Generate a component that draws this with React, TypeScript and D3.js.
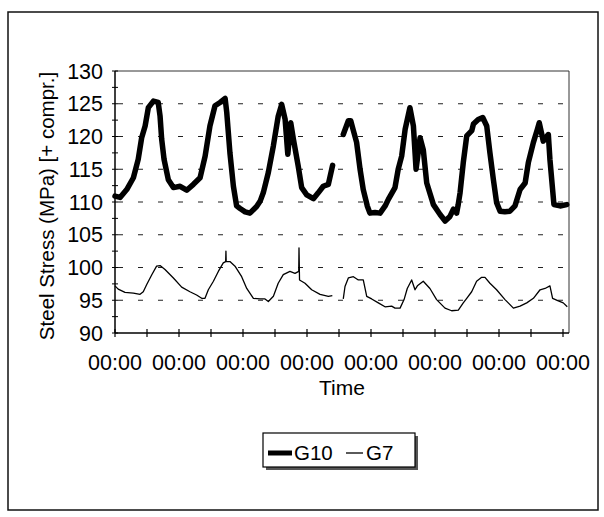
import React from "react";
import * as d3 from "d3";

// hours from start; null marks the gap in the record
const g10Hours: (number | null)[] = [0, 1.9, 4.4, 6.9, 8.7, 10.0, 11.3, 12.5, 14.4, 16.2, 16.9, 17.5, 18.4, 20.0, 21.9, 24.4, 26.9, 29.4, 31.9, 33.8, 35.6, 37.5, 39.4, 41.3, 41.9, 43.1, 44.4, 45.6, 46.9, 48.8, 50.6, 53.1, 54.4, 55.6, 57.5, 59.4, 61.2, 62.5, 63.8, 64.8, 65.9, 66.9, 68.7, 70.0, 71.9, 74.4, 76.2, 78.1, 80.0, 81.6,
  null,
  85.6, 87.5, 88.4, 89.4, 90.6, 91.9, 93.1, 94.6, 95.6, 97.5, 99.4, 101.3, 102.5, 105.0, 106.2, 107.5, 108.8, 110.6, 111.9, 112.9, 114.4, 115.6, 116.9, 118.8, 119.4, 121.9, 123.8, 125.6, 126.9, 128.1, 128.7, 129.4, 130.6, 131.9, 133.8, 134.4, 136.2, 137.9, 139.4, 140.6, 141.9, 143.1, 144.4, 146.2, 148.1, 150.0, 151.9, 153.8, 155.0, 156.9, 158.4, 159.1, 160.6, 162.5, 163.1, 164.1, 164.6, 166.9, 169.4];
const g10Values: (number | null)[] = [110.9, 110.7, 111.9, 113.7, 116.5, 119.8, 121.6, 124.4, 125.4, 125.2, 123.1, 119.6, 116.5, 113.4, 112.2, 112.4, 111.8, 112.7, 113.7, 117.0, 121.6, 124.7, 125.2, 125.8, 123.7, 117.5, 112.4, 109.4, 109.0, 108.5, 108.3, 109.3, 110.1, 111.4, 114.5, 118.6, 123.1, 124.9, 122.6, 117.3, 122.1, 119.6, 115.5, 112.2, 111.1, 110.5, 111.4, 112.4, 112.7, 115.6,
  null,
  120.3, 122.4, 122.4, 120.9, 119.1, 115.0, 111.9, 109.4, 108.3, 108.4, 108.3, 109.4, 110.4, 112.2, 115.0, 117.0, 121.1, 124.4, 121.6, 115.0, 119.8, 118.0, 112.9, 110.4, 109.6, 108.1, 107.1, 107.8, 108.9, 108.3, 109.6, 111.4, 116.0, 120.1, 120.9, 121.9, 122.6, 122.9, 121.6, 117.5, 113.4, 109.9, 108.6, 108.5, 108.6, 109.4, 111.9, 112.9, 116.0, 119.1, 121.1, 122.1, 119.3, 120.3, 116.5, 111.9, 109.6, 109.4, 109.6];

const g7Hours: (number | null)[] = [0, 1.2, 3.75, 6.9, 9.4, 10.6, 11.9, 13.8, 15.6, 16.9, 18.75, 21.9, 25.0, 28.1, 30.6, 32.5, 33.75, 35.0, 36.9, 38.75, 40.6, 41.5, 41.6, 41.7, 43.1, 45.0, 47.5, 49.4, 51.9, 54.4, 56.25, 57.5, 59.4, 61.2, 63.1, 65.6, 67.5, 68.9, 69.0, 69.2, 71.25, 73.75, 76.9, 80.0, 81.5,
  null,
  85.6, 86.25, 87.5, 89.4, 91.25, 93.1, 94.4, 96.25, 98.75, 101.25, 103.75, 105.0, 106.9, 108.4, 109.6, 111.25, 112.5, 113.4, 115.6, 118.1, 120.6, 123.75, 126.25, 128.75, 130.6, 131.9, 133.75, 135.6, 137.5, 138.75, 140.6, 143.1, 146.25, 149.4, 151.9, 154.4, 156.9, 159.4, 161.25, 163.1, 164.1, 166.25, 168.1, 169.6];
const g7Values: (number | null)[] = [97.2, 96.7, 96.2, 96.1, 95.9, 96.3, 97.4, 98.9, 100.2, 100.3, 99.7, 98.4, 97.0, 96.3, 95.8, 95.3, 95.3, 96.6, 97.9, 99.4, 100.7, 100.9, 102.5, 100.9, 100.9, 100.2, 98.6, 96.8, 95.3, 95.2, 95.2, 94.8, 95.6, 97.6, 98.9, 99.4, 99.1, 99.4, 103.0, 98.1, 97.6, 96.6, 95.9, 95.6, 95.7,
  null,
  95.2, 97.1, 98.4, 98.6, 98.1, 98.1, 95.6, 95.2, 94.6, 94.0, 94.1, 93.8, 93.8, 95.1, 96.8, 98.1, 96.6, 97.2, 97.9, 96.8, 95.1, 93.8, 93.4, 93.5, 94.6, 95.3, 96.3, 97.9, 98.5, 98.5, 97.6, 96.6, 95.1, 93.8, 94.1, 94.6, 95.3, 96.6, 96.8, 97.2, 95.3, 94.9, 94.6, 94.0];

const yTicks = [90, 95, 100, 105, 110, 115, 120, 125, 130];
const yMinorTicks = d3.range(90, 130.01, 2.5);
const xTicks = d3.range(0, 168.01, 12);
const xLabelHours = d3.range(0, 168.01, 24);
const xLabel = "00:00";
const seriesNames = ["G10", "G7"];

const W = 604, H = 517;
const PL = 115, PR = 569, PT = 71, PB = 333;
const FONT = "'Liberation Sans', Arial, sans-serif";

export default function App() {
  const x = d3.scaleLinear().domain([0, 170.25]).range([PL, PR]);
  const y = d3.scaleLinear().domain([90, 130]).range([PB, PT]);
  const mk = (hs: (number | null)[], vs: (number | null)[]) => {
    const pts = hs.map((h, i) => [h, vs[i]] as [number | null, number | null]);
    return d3.line<[number | null, number | null]>()
      .defined(d => d[0] != null && d[1] != null)
      .x(d => x(d[0] as number))
      .y(d => y(d[1] as number))(pts) || "";
  };
  const g10Path = mk(g10Hours, g10Values);
  const g7Path = mk(g7Hours, g7Values);

  return (
    <svg width={W} height={H} style={{ position: "absolute", left: 0, top: 0, background: "#fff" }} fontFamily={FONT}>
      <rect x={8} y={12} width={590} height={498} fill="#fff" stroke="#111" strokeWidth={1.5} />
      {/* gridlines */}
      {yTicks.filter(t => t > 90 && t < 130).map(t => (
        <line key={"g" + t} x1={PL} x2={PR} y1={y(t)} y2={y(t)} stroke="#222" strokeWidth={1.2} strokeDasharray="5,15" strokeDashoffset={-3} />
      ))}
      {/* plot border top/right */}
      <line x1={PL} x2={PR} y1={PT} y2={PT} stroke="#333" strokeWidth={1} />
      <line x1={PR} x2={PR} y1={PT} y2={PB} stroke="#333" strokeWidth={1} />
      {/* series */}
      <path d={g7Path} fill="none" stroke="#000" strokeWidth={1.3} strokeLinejoin="round" />
      <path d={g10Path} fill="none" stroke="#000" strokeWidth={5.5} strokeLinejoin="round" strokeLinecap="round" />
      {/* axes */}
      <line x1={PL} x2={PL} y1={PT} y2={PB} stroke="#000" strokeWidth={1.5} />
      <line x1={PL} x2={PR} y1={PB} y2={PB} stroke="#000" strokeWidth={1.5} />
      {yMinorTicks.map(t => (
        <line key={"yt" + t} x1={PL - 3} x2={PL + 3} y1={y(t)} y2={y(t)} stroke="#000" strokeWidth={1} />
      ))}
      {xTicks.map(t => (
        <line key={"xt" + t} x1={x(t)} x2={x(t)} y1={PB - 4} y2={PB + 4} stroke="#000" strokeWidth={1.2} />
      ))}
      {yTicks.map(t => (
        <text key={"yl" + t} x={103} y={y(t)} dy="0.36em" textAnchor="end" fontSize={21.5} fill="#000">{t}</text>
      ))}
      {xLabelHours.map(h => (
        <text key={"xl" + h} x={x(h)} y={370} textAnchor="middle" fontSize={21.5} fill="#000">{xLabel}</text>
      ))}
      <text x={342} y={395} textAnchor="middle" fontSize={21} fill="#000">Time</text>
      <text transform={`translate(54,206) rotate(-90)`} textAnchor="middle" fontSize={20.5} fill="#000">Steel Stress (MPa) [+ compr.]</text>
      {/* legend */}
      <rect x={266} y={436} width={152} height={34} fill="#555" />
      <rect x={263} y={433} width={152} height={34} fill="#fff" stroke="#000" strokeWidth={1.2} />
      <line x1={268} x2={292} y1={453} y2={453} stroke="#000" strokeWidth={5} />
      <text x={294} y={460} fontSize={20.5} fill="#000">{seriesNames[0]}</text>
      <line x1={346} x2={363} y1={453} y2={453} stroke="#000" strokeWidth={1.3} />
      <text x={366} y={460} fontSize={20.5} fill="#000">{seriesNames[1]}</text>
    </svg>
  );
}
